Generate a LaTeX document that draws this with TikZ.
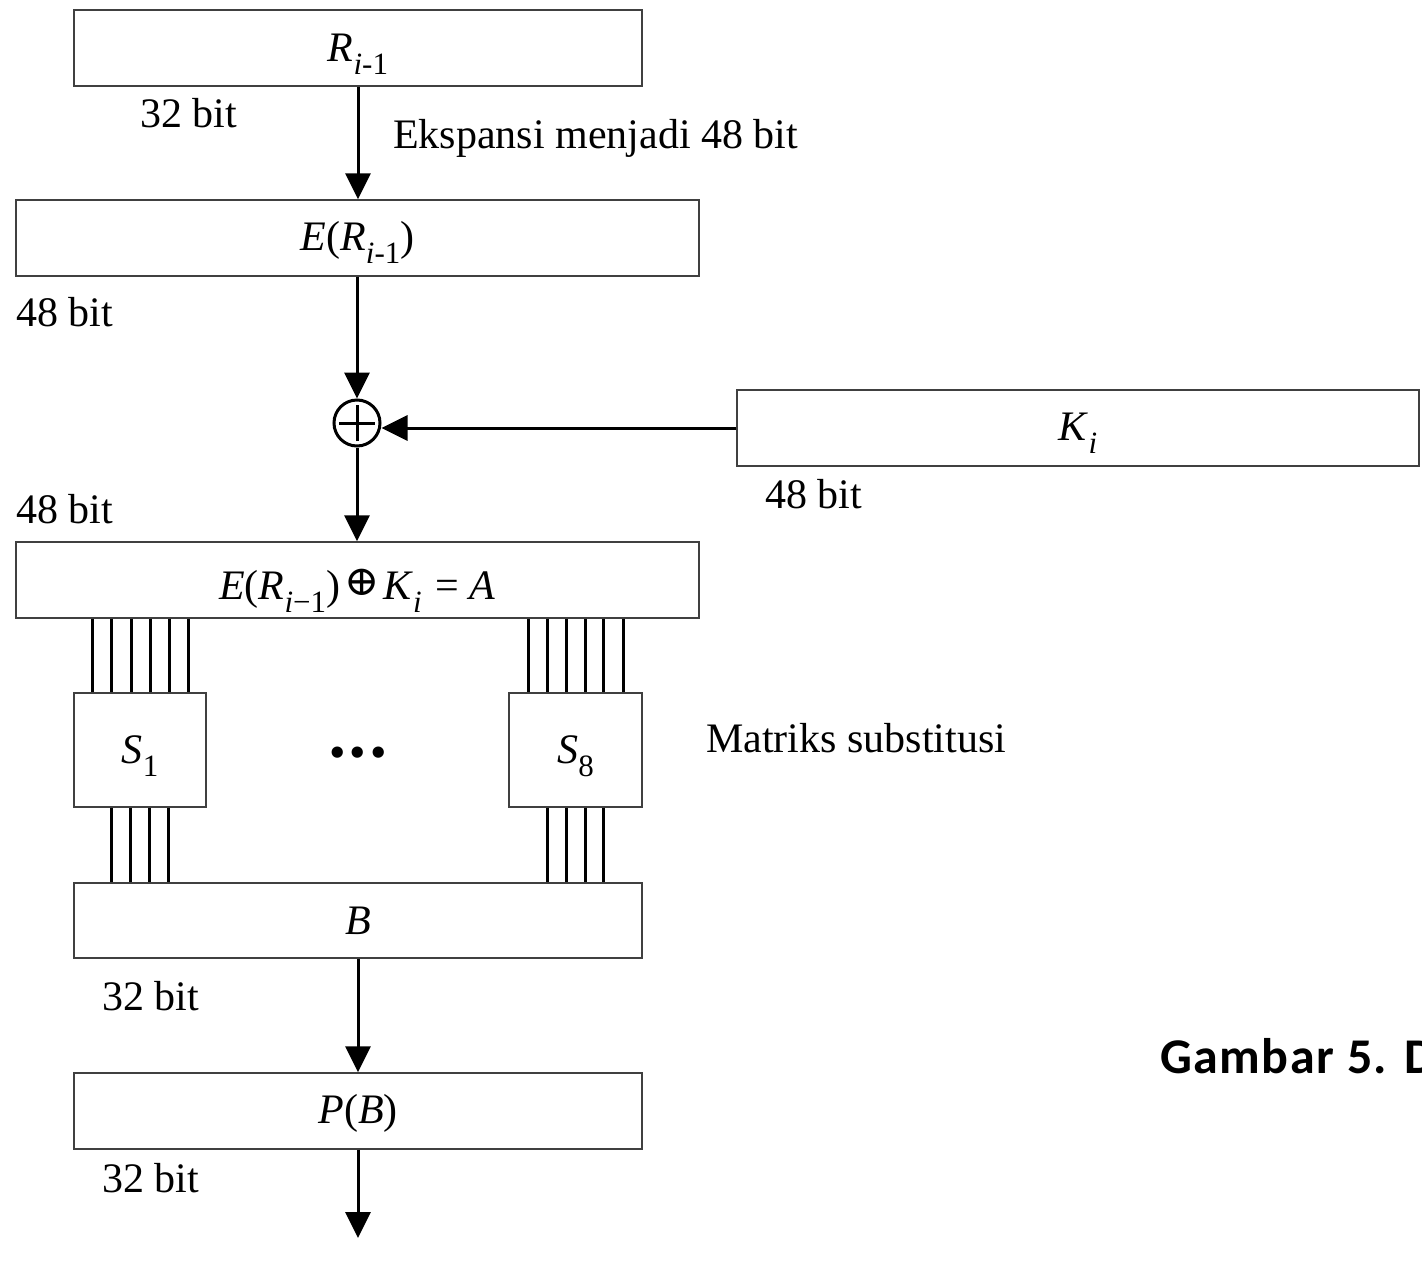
\documentclass[tikz,border=0pt]{standalone}
\usepackage{fontspec}
\setmainfont{Liberation Serif}
\newfontfamily\capfont[LetterSpace=3]{Carlito}
\newfontfamily\dejavu{DejaVu Sans}
\newfontfamily\dejavuserif{DejaVu Serif}
\usetikzlibrary{arrows.meta}
\newcommand\mysub[1]{\raisebox{-0.33em}{\fontsize{31}{31}\selectfont #1}}
\newcommand\myoplus{\hspace{4pt}\raisebox{4pt}{\dejavuserif\fontsize{42}{42}\selectfont ⊕}\hspace{4pt}}
\begin{document}
\begin{tikzpicture}[x=1pt,y=-1pt,
  box/.style={draw=black!75, line width=1.4pt, inner sep=0pt, minimum height=76pt, font=\fontsize{42}{50}\selectfont},
  lbl/.style={font=\fontsize{42}{50}\selectfont, inner sep=0pt, anchor=base west},
  arr/.style={line width=3pt, -{Triangle[length=26pt,width=25pt]}},
  wire/.style={line width=3pt}]
\useasboundingbox (0,0) rectangle (1422,1269);

\node[box, minimum width=568pt, text height=26pt, text depth=0pt] (R) at (358,48) {\textit{R}\mysub{\textit{i}-1}};
\node[box, minimum width=683pt, text height=24pt, text depth=0pt] (E) at (357.5,238) {\textit{E}(\textit{R}\mysub{\textit{i}-1})};
\node[box, minimum width=682pt, text height=24pt, text depth=0pt] (K) at (1078,428) {\textit{K}\mysub{\textit{i}}};
\node[box, minimum width=683pt, text height=38pt, text depth=0pt] (A) at (357.5,580) {\textit{E}(\textit{R}\mysub{\textit{i}−1})\myoplus\textit{K}\mysub{\textit{i}}\hspace{14pt}= \textit{A}};
\node[box, minimum width=132pt, minimum height=114pt, text height=26pt, text depth=0pt] (S1) at (140,750) {\textit{S}\mysub{1}};
\node[box, minimum width=133pt, minimum height=114pt, text height=26pt, text depth=0pt] (S8) at (575.5,750) {\textit{S}\mysub{8}};
\node[box, minimum width=568pt, minimum height=75pt, text height=28pt, text depth=0pt] (B) at (358,920.5) {\textit{B}};
\node[box, minimum width=568pt, text height=24pt, text depth=0pt] (P) at (358,1111) {\textit{P}(\textit{B})};

\node[circle, draw, line width=3pt, minimum size=46pt, inner sep=0pt] (xor) at (357,423) {};
\draw[line width=3pt] ([yshift=-18pt]xor.center) -- ([yshift=18pt]xor.center)
  ([xshift=-18pt]xor.center) -- ([xshift=18pt]xor.center);

\node[font=\dejavu\bfseries\fontsize{32}{32}\selectfont, inner sep=0pt] (dots) at (358,756) {•••};

\coordinate (out) at (358,1238);

\draw[arr] (R.south) -- (R.south |- E.north);
\draw[arr] (xor.north |- E.south) -- (xor.north);
\draw[arr] (K.west) -- (K.west -| xor.east);
\draw[arr] (xor.south) -- (xor.south |- A.north);
\draw[arr] (B.south) -- (P.north);
\draw[arr] (P.south) -- (out);

\foreach \x in {92,111,131,150,169,188} \draw[wire] (\x,0 |- A.south) -- (\x,0 |- S1.north);
\foreach \x in {528.5,547.3,566.6,585,603.8,623} \draw[wire] (\x,0 |- A.south) -- (\x,0 |- S8.north);
\foreach \x in {111.6,130.9,149.7,168.5} \draw[wire] (\x,0 |- S1.south) -- (\x,0 |- B.north);
\foreach \x in {547.3,566.6,585,603.8} \draw[wire] (\x,0 |- S8.south) -- (\x,0 |- B.north);

\node[lbl] (l1) at (140,127) {32 bit};
\node[lbl] (l2) at (393,148) {Ekspansi menjadi 48 bit};
\node[lbl] (l3) at (16,326) {48 bit};
\node[lbl] (l4) at (16,523) {48 bit};
\node[lbl] (l5) at (765,508) {48 bit};
\node[lbl] (l6) at (706,752) {Matriks substitusi};
\node[lbl] (l7) at (102,1010) {32 bit};
\node[lbl] (l8) at (102,1192) {32 bit};
\node[font=\capfont\bfseries\fontsize{50}{58}\selectfont, anchor=base west, inner sep=0pt] (cap) at (1160,1073) {Gambar 5. D};
\end{tikzpicture}
\end{document}
